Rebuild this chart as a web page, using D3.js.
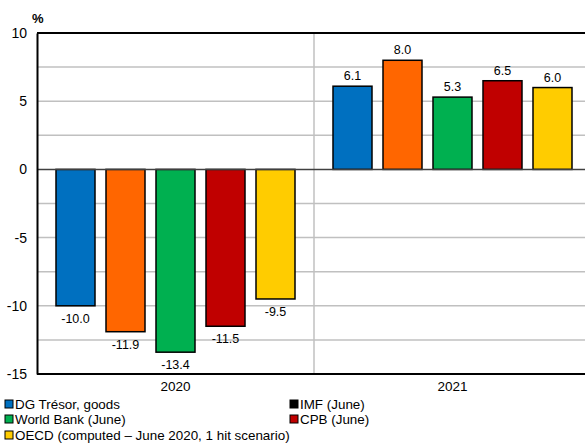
<!DOCTYPE html>
<html>
<head>
<meta charset="utf-8">
<script src="https://cdn.jsdelivr.net/npm/d3@7/dist/d3.min.js"></script>
<style>
  html, body { margin: 0; padding: 0; background: #fff; }
  svg { display: block; font-family: "Liberation Sans", Arial, sans-serif; }
</style>
</head>
<body>
<svg id="chart" width="585" height="443"></svg>
<script>
// Years on the category axis
const years = ["2020", "2021"];
// Forecast sources (series)
const sources = ["DG Trésor, goods", "IMF (June)", "World Bank (June)", "CPB (June)", "OECD (computed – June 2020, 1 hit scenario)"];
const sourceColors = ["#0070c0", "#ff6600", "#00b050", "#c00000", "#ffcc00"];
// Legend swatch colours (IMF shown with a black key)
const legendColors = ["#0070c0", "#000000", "#00b050", "#c00000", "#ffcc00"];
// Values per source, [2020, 2021], in %
const dgTresor = [-10.0, 6.1];
const imf = [-11.9, 8.0];
const worldBank = [-13.4, 5.3];
const cpb = [-11.5, 6.5];
const oecd = [-9.5, 6.0];
const seriesValues = [dgTresor, imf, worldBank, cpb, oecd];
const yTicks = [10, 5, 0, -5, -10, -15];
const yGrid = [7.5, 5, 2.5, -2.5, -5, -7.5, -10, -12.5];

const svg = d3.select("#chart");
const plotL = 37, plotR = 591, plotT = 33, plotB = 374;

const y = d3.scaleLinear().domain([-15, 10]).range([plotB, plotT]);
const x0 = d3.scaleBand().domain(years).range([plotL, plotR]).paddingInner(0).paddingOuter(0);
const x1 = d3.scaleBand().domain(d3.range(sources.length)).range([0, x0.bandwidth()])
  .paddingInner(0.22).paddingOuter(0.38);

// horizontal gridlines
svg.append("g").selectAll("line").data(yGrid).join("line")
  .attr("x1", plotL).attr("x2", plotR)
  .attr("y1", d => y(d)).attr("y2", d => y(d))
  .attr("stroke", "#c0c0c0").attr("stroke-width", 1.5);

// vertical separator between years
svg.append("line")
  .attr("x1", x0("2021")).attr("x2", x0("2021"))
  .attr("y1", plotT).attr("y2", plotB)
  .attr("stroke", "#c0c0c0").attr("stroke-width", 1.5);

// bars
const data = [];
years.forEach((yr, yi) => sources.forEach((s, si) => data.push({ yr, si, v: seriesValues[si][yi] })));

svg.append("g").selectAll("rect").data(data).join("rect")
  .attr("x", d => x0(d.yr) + x1(d.si))
  .attr("width", x1.bandwidth())
  .attr("y", d => y(Math.max(0, d.v)))
  .attr("height", d => Math.abs(y(d.v) - y(0)))
  .attr("fill", d => sourceColors[d.si])
  .attr("stroke", "#000").attr("stroke-width", 1.5);

// value labels
svg.append("g").selectAll("text").data(data).join("text")
  .attr("x", d => x0(d.yr) + x1(d.si) + x1.bandwidth() / 2)
  .attr("y", d => d.v >= 0 ? y(d.v) - 6 : y(d.v) + 17)
  .attr("text-anchor", "middle")
  .attr("font-size", 12.5).attr("fill", "#000")
  .text(d => d.v.toFixed(1));

// zero line
svg.append("line")
  .attr("x1", plotL).attr("x2", plotR)
  .attr("y1", y(0)).attr("y2", y(0))
  .attr("stroke", "#404040").attr("stroke-width", 1.5);

// frame: top and bottom
svg.append("line").attr("x1", plotL).attr("x2", plotR).attr("y1", plotT).attr("y2", plotT)
  .attr("stroke", "#000").attr("stroke-width", 2);
svg.append("line").attr("x1", plotL).attr("x2", plotR).attr("y1", plotB).attr("y2", plotB)
  .attr("stroke", "#000").attr("stroke-width", 2);

// y axis (plain hyphen for negative ticks)
const yAxis = d3.axisLeft(y).tickValues(yTicks).tickSize(0).tickPadding(10).tickFormat(d => String(d));
const ya = svg.append("g").attr("transform", `translate(${plotL},0)`).call(yAxis);
ya.select(".domain").attr("stroke", "#000").attr("stroke-width", 2);
ya.selectAll("text").attr("font-size", 14).attr("fill", "#000")
  .attr("font-family", "\"Liberation Sans\", Arial, sans-serif");

// x axis category labels
const xAxis = d3.axisBottom(x0).tickSize(0).tickPadding(7);
const xa = svg.append("g").attr("transform", `translate(0,${plotB})`).call(xAxis);
xa.select(".domain").remove();
xa.selectAll("text").attr("font-size", 13.5).attr("fill", "#000")
  .attr("font-family", "\"Liberation Sans\", Arial, sans-serif");

// unit label
svg.append("text").attr("x", 32).attr("y", 23).attr("font-size", 13).attr("font-weight", "bold")
  .text("%");

// legend
const legendPos = [[5, 409], [290, 409], [5, 424], [290, 424], [5, 440]];
const lg = svg.append("g").selectAll("g").data(sources).join("g")
  .attr("transform", (d, i) => `translate(${legendPos[i][0]},${legendPos[i][1]})`);
lg.append("rect").attr("x", 0).attr("y", -9).attr("width", 8).attr("height", 8)
  .attr("fill", (d, i) => legendColors[i]).attr("stroke", "#000").attr("stroke-width", 1);
lg.append("text").attr("x", 10).attr("y", 0).attr("font-size", 13.4).attr("fill", "#000")
  .text(d => d);
</script>
</body>
</html>
